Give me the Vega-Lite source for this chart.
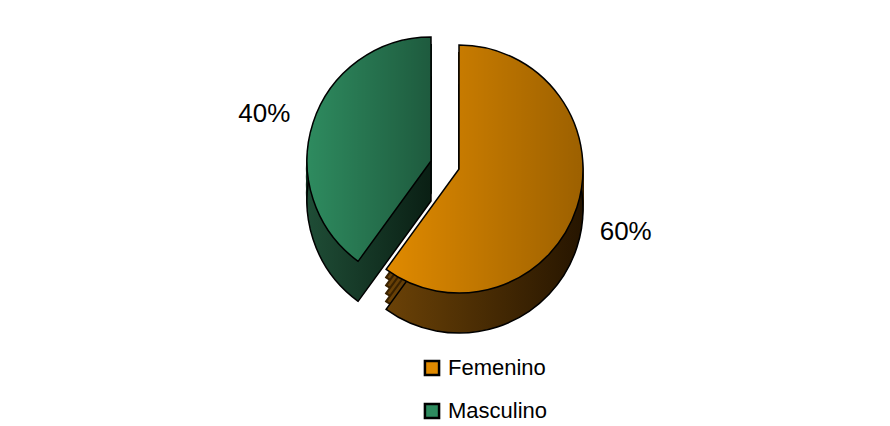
{
  "$schema": "https://vega.github.io/schema/vega-lite/v6.json",
  "width": 890,
  "height": 426,
  "autosize": {"type": "fit", "contains": "padding"},
  "background": "white",
  "config": {"view": {"stroke": null}, "font": "Liberation Sans"},
  "data": {"values": [
    {"sexo": "Femenino", "pct": 60, "label": "60%"},
    {"sexo": "Masculino", "pct": 40, "label": "40%"}
  ]},
  "transform": [
    {"stack": "pct", "groupby": [], "sort": [{"field": "sexo", "order": "ascending"}], "as": ["s0", "s1"]}
  ],
  "layer": [
    {
      "transform": [{"filter": "datum.sexo === 'Masculino'"}],
      "mark": {"type": "arc", "outerRadius": 124, "xOffset": -14, "yOffset": -44, "fill": {"x1": 0, "y1": 0, "x2": 1, "y2": 0, "gradient": "linear", "stops": [{"offset": 0, "color": "#1f4d36"}, {"offset": 1, "color": "#0a1f14"}]}, "stroke": "#0f2a1c", "strokeWidth": 2},
      "encoding": {"theta": {"field": "s0", "type": "quantitative", "scale": {"domain": [0, 100]}}, "theta2": {"field": "s1"}}
    },
    {
      "transform": [{"filter": "datum.sexo === 'Masculino'"}],
      "mark": {"type": "arc", "outerRadius": 124, "xOffset": -14, "yOffset": -36, "fill": {"x1": 0, "y1": 0, "x2": 1, "y2": 0, "gradient": "linear", "stops": [{"offset": 0, "color": "#1f4d36"}, {"offset": 1, "color": "#0a1f14"}]}, "stroke": "#0f2a1c", "strokeWidth": 2},
      "encoding": {"theta": {"field": "s0", "type": "quantitative"}, "theta2": {"field": "s1"}}
    },
    {
      "transform": [{"filter": "datum.sexo === 'Masculino'"}],
      "mark": {"type": "arc", "outerRadius": 124, "xOffset": -14, "yOffset": -28, "fill": {"x1": 0, "y1": 0, "x2": 1, "y2": 0, "gradient": "linear", "stops": [{"offset": 0, "color": "#1f4d36"}, {"offset": 1, "color": "#0a1f14"}]}, "stroke": "#0f2a1c", "strokeWidth": 2},
      "encoding": {"theta": {"field": "s0", "type": "quantitative"}, "theta2": {"field": "s1"}}
    },
    {
      "transform": [{"filter": "datum.sexo === 'Masculino'"}],
      "mark": {"type": "arc", "outerRadius": 124, "xOffset": -14, "yOffset": -20, "fill": {"x1": 0, "y1": 0, "x2": 1, "y2": 0, "gradient": "linear", "stops": [{"offset": 0, "color": "#1f4d36"}, {"offset": 1, "color": "#0a1f14"}]}, "stroke": "#0f2a1c", "strokeWidth": 2},
      "encoding": {"theta": {"field": "s0", "type": "quantitative"}, "theta2": {"field": "s1"}}
    },
    {
      "transform": [{"filter": "datum.sexo === 'Masculino'"}],
      "mark": {"type": "arc", "outerRadius": 124, "xOffset": -14, "yOffset": -12, "fill": {"x1": 0, "y1": 0, "x2": 1, "y2": 0, "gradient": "linear", "stops": [{"offset": 0, "color": "#1f4d36"}, {"offset": 1, "color": "#0a1f14"}]}, "stroke": "#000000", "strokeWidth": 1.5},
      "encoding": {"theta": {"field": "s0", "type": "quantitative"}, "theta2": {"field": "s1"}}
    },
    {
      "transform": [{"filter": "datum.sexo === 'Masculino'"}],
      "mark": {"type": "arc", "outerRadius": 124, "xOffset": -14, "yOffset": -52, "stroke": "#000000", "strokeWidth": 1.5, "opacity": 1},
      "encoding": {
        "theta": {"field": "s0", "type": "quantitative"}, "theta2": {"field": "s1"},
        "color": {"field": "sexo", "type": "nominal", "scale": {"domain": ["Femenino", "Masculino"], "range": ["#e08a00", "#2e8b5f"]},
          "legend": {"title": null, "orient": "none", "legendX": 416, "legendY": 352, "direction": "vertical", "symbolType": "square", "symbolSize": 200, "symbolStrokeColor": "#000000", "symbolStrokeWidth": 2.5, "labelFontSize": 22, "labelColor": "#000000", "labelFont": "Liberation Sans", "labelOffset": 5, "rowPadding": 17, "symbolOpacity": 1}}
      }
    },
    {
      "transform": [{"filter": "datum.sexo === 'Masculino'"}],
      "mark": {"type": "arc", "outerRadius": 124, "xOffset": -14, "yOffset": -52, "fill": {"x1": 0, "y1": 0, "x2": 1, "y2": 0, "gradient": "linear", "stops": [{"offset": 0, "color": "rgba(0,0,0,0)"}, {"offset": 1, "color": "rgba(0,0,0,0.35)"}]}},
      "encoding": {"theta": {"field": "s0", "type": "quantitative"}, "theta2": {"field": "s1"}}
    },
    {
      "transform": [{"filter": "datum.sexo === 'Femenino'"}],
      "mark": {"type": "arc", "outerRadius": 124, "xOffset": 14, "yOffset": -36, "fill": {"x1": 0, "y1": 0, "x2": 1, "y2": 0, "gradient": "linear", "stops": [{"offset": 0, "color": "#6b4207"}, {"offset": 1, "color": "#261500"}]}, "stroke": "#3a2200", "strokeWidth": 2},
      "encoding": {"theta": {"field": "s0", "type": "quantitative"}, "theta2": {"field": "s1"}}
    },
    {
      "transform": [{"filter": "datum.sexo === 'Femenino'"}],
      "mark": {"type": "arc", "outerRadius": 124, "xOffset": 14, "yOffset": -28, "fill": {"x1": 0, "y1": 0, "x2": 1, "y2": 0, "gradient": "linear", "stops": [{"offset": 0, "color": "#6b4207"}, {"offset": 1, "color": "#261500"}]}, "stroke": "#3a2200", "strokeWidth": 2},
      "encoding": {"theta": {"field": "s0", "type": "quantitative"}, "theta2": {"field": "s1"}}
    },
    {
      "transform": [{"filter": "datum.sexo === 'Femenino'"}],
      "mark": {"type": "arc", "outerRadius": 124, "xOffset": 14, "yOffset": -20, "fill": {"x1": 0, "y1": 0, "x2": 1, "y2": 0, "gradient": "linear", "stops": [{"offset": 0, "color": "#6b4207"}, {"offset": 1, "color": "#261500"}]}, "stroke": "#3a2200", "strokeWidth": 2},
      "encoding": {"theta": {"field": "s0", "type": "quantitative"}, "theta2": {"field": "s1"}}
    },
    {
      "transform": [{"filter": "datum.sexo === 'Femenino'"}],
      "mark": {"type": "arc", "outerRadius": 124, "xOffset": 14, "yOffset": -12, "fill": {"x1": 0, "y1": 0, "x2": 1, "y2": 0, "gradient": "linear", "stops": [{"offset": 0, "color": "#6b4207"}, {"offset": 1, "color": "#261500"}]}, "stroke": "#3a2200", "strokeWidth": 2},
      "encoding": {"theta": {"field": "s0", "type": "quantitative"}, "theta2": {"field": "s1"}}
    },
    {
      "transform": [{"filter": "datum.sexo === 'Femenino'"}],
      "mark": {"type": "arc", "outerRadius": 124, "xOffset": 14, "yOffset": -4, "fill": {"x1": 0, "y1": 0, "x2": 1, "y2": 0, "gradient": "linear", "stops": [{"offset": 0, "color": "#6b4207"}, {"offset": 1, "color": "#261500"}]}, "stroke": "#000000", "strokeWidth": 1.5},
      "encoding": {"theta": {"field": "s0", "type": "quantitative"}, "theta2": {"field": "s1"}}
    },
    {
      "transform": [{"filter": "datum.sexo === 'Femenino'"}],
      "mark": {"type": "arc", "outerRadius": 124, "xOffset": 14, "yOffset": -44, "stroke": "#000000", "strokeWidth": 1.5, "opacity": 1},
      "encoding": {
        "theta": {"field": "s0", "type": "quantitative"}, "theta2": {"field": "s1"},
        "color": {"field": "sexo", "type": "nominal"}
      }
    },
    {
      "transform": [{"filter": "datum.sexo === 'Femenino'"}],
      "mark": {"type": "arc", "outerRadius": 124, "xOffset": 14, "yOffset": -44, "fill": {"x1": 0, "y1": 0, "x2": 1, "y2": 0, "gradient": "linear", "stops": [{"offset": 0, "color": "rgba(0,0,0,0)"}, {"offset": 1, "color": "rgba(0,0,0,0.3)"}]}},
      "encoding": {"theta": {"field": "s0", "type": "quantitative"}, "theta2": {"field": "s1"}}
    },
    {
      "mark": {"type": "text", "radius": 190, "yOffset": -40, "fontSize": 26, "font": "Liberation Sans", "color": "#000000"},
      "encoding": {
        "theta": {"field": "pct", "type": "quantitative", "stack": true, "sort": {"field": "sexo"}},
        "order": {"field": "sexo", "sort": "ascending"},
        "text": {"field": "label"}
      }
    }
  ]
}
